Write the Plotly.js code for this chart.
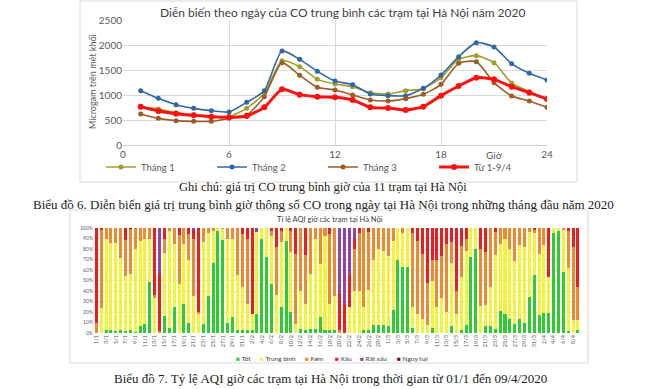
<!DOCTYPE html>
<html><head><meta charset="utf-8">
<script src="https://cdn.plot.ly/plotly-3.0.1.min.js"></script>
<style>html,body{margin:0;padding:0;background:#fff;}#chart{width:660px;height:389px;}</style>
</head><body><div id="chart"></div>
<script>
// ---- Chart 1: hourly CO (µg/m3) ----
const hours = [1,2,3,4,5,6,7,8,9,10,11,12,13,14,15,16,17,18,19,20,21,22,23,24];
const thang1 = [767,720,647,600,567,567,733,1033,1687,1567,1313,1220,1167,1047,1020,1087,1127,1347,1713,1787,1647,1240,1067,920];
const thang2 = [1087,933,807,733,687,660,853,1087,1880,1713,1473,1280,1207,1020,987,987,1133,1400,1767,2047,1960,1627,1433,1300];
const thang3 = [620,533,487,473,473,533,600,967,1647,1393,1153,1100,1000,900,880,927,1013,1213,1633,1667,1247,980,880,753];
const tu19_4 = [767,680,627,593,567,553,580,753,1113,1007,967,953,900,753,740,700,767,987,1180,1347,1313,1167,1047,920];
const hourTicks = [0,6,12,18,24];

// ---- Chart 2: daily AQI category shares (%) ----
const monthNums = [1,2,3,4];
const monthDays = [31,29,31,9];
const days = [];
monthNums.forEach((m,k)=>{ for(let d=1; d<=monthDays[k]; d++) days.push(d+'/'+m); });
const dayTicks = days.filter((_,i)=>i%2===0);

const tot = [0,0,3,3,2,3,2,3,1,7, 9,49,0,0,16,5,25,0,28,10, 0,0,9,35,67,97,89,10,15,3,
  3,3,3,18,90,72,47,0,25,88, 20,0,4,3,4,4,15,3,3,3, 0,0,0,0,0,3,3,8,8,8,
  7,22,70,63,63,5,0,0,0,5, 0,0,0,7,0,3,8,72,80,0, 7,7,4,21,18,13,9,13,10,34, 55,17,19,19,95,97,58,2,0,3];
const trungBinh = [0,24,87,83,84,68,52,53,79,81, 81,41,33,0,60,92,60,47,57,60, 35,18,78,60,30,3,10,80,75,52,
  41,25,15,78,10,28,45,36,62,12, 57,9,36,25,52,86,51,89,25,32, 0,0,25,40,40,22,38,62,72,70,
  66,66,30,32,37,20,18,13,8,45, 25,33,20,60,18,50,70,28,20,26, 20,37,70,64,72,67,60,71,72,62, 40,58,65,34,5,3,40,60,12,9];
const kem = [10,74,10,14,14,29,35,43,20,12, 10,10,3,2,14,3,15,46,15,24, 55,2,13,5,3,0,1,10,10,45,
  50,62,0,0,0,0,5,46,10,0, 20,66,60,46,44,10,34,8,66,65, 3,0,0,40,55,75,55,30,20,22,
  27,12,0,5,0,70,70,62,40,20, 45,40,65,20,22,30,12,0,0,54, 50,56,22,15,10,20,31,16,18,4, 3,25,16,0,0,0,2,35,70,32];
const xau = [90,2,0,0,0,0,11,0,0,0, 0,0,64,54,10,0,0,7,0,6, 8,80,0,0,0,0,0,0,0,0,
  6,10,82,0,0,0,3,18,3,0, 3,25,0,26,0,0,0,0,6,0, 35,28,30,10,5,0,4,0,0,0,
  0,0,0,0,0,5,12,25,52,30, 30,27,15,13,60,15,10,0,0,20, 23,0,4,0,0,0,0,0,0,0, 2,0,0,47,0,0,0,3,18,56];
const ratXau = [0,0,0,0,0,0,0,0,0,0, 0,0,0,44,0,0,0,0,0,0, 2,0,0,0,0,0,0,0,0,0,
  0,0,0,4,0,0,0,0,0,0, 0,0,0,0,0,0,0,0,0,0, 62,72,45,10,0,0,0,0,0,0,
  0,0,0,0,0,0,0,0,0,0, 0,0,0,0,0,2,0,0,0,0, 0,0,0,0,0,0,0,0,0,0, 0,0,0,0,0,0,0,0,0,0];
const nguyHai = [0,0,0,0,0,0,0,1,0,0, 0,0,0,0,0,0,0,0,0,0, 0,0,0,0,0,0,0,0,0,0,
  0,0,0,0,0,0,0,0,0,0, 0,0,0,0,0,0,0,0,0,0, 0,0,0,0,0,0,0,0,0,0,
  0,0,0,0,0,0,0,0,0,0, 0,0,0,0,0,0,0,0,0,0, 0,0,0,0,0,0,0,0,0,0, 0,0,0,0,0,0,0,0,0,0];

const aqiNames = ['Tốt','Trung bình','Kém','Xấu','Rất xấu','Nguy hại'];
const aqiColors = ['#2ECC2E','#F2F23A','#EE8A2E','#EE1C1C','#8E44A8','#7E0023'];
const aqiSeries = [tot,trungBinh,kem,xau,ratXau,nguyHai];

const W=660,H=389;
const px = v=>v/W, py = v=>1-v/H;

const lineDefs = [
  {name:'Tháng 1', y:thang1, color:'#A39E2A', w:1.6, ms:5},
  {name:'Tháng 2', y:thang2, color:'#2F67A6', w:1.6, ms:5},
  {name:'Tháng 3', y:thang3, color:'#9C5C26', w:1.6, ms:5},
  {name:'Từ 1-9/4', y:tu19_4, color:'#FF1010', w:3, ms:6}
];
const traces = lineDefs.map(d=>({
  type:'scatter', mode:'lines+markers', x:hours, y:d.y, name:d.name,
  line:{color:d.color,width:d.w,shape:'spline',smoothing:0.6}, marker:{color:d.color,size:d.ms},
  xaxis:'x', yaxis:'y', legend:'legend', hoverinfo:'skip'
}));
aqiSeries.forEach((s,k)=>traces.push({
  type:'bar', x:days, y:s, name:aqiNames[k], marker:{color:aqiColors[k],line:{width:0}},
  xaxis:'x2', yaxis:'y2', showlegend:false, hoverinfo:'skip'
}));

const legendX = [234,258,303,333,358,395];
const serif = 'Liberation Serif, serif';
const ann = [
  {text:'Diễn biến theo ngày của CO trung bình các trạm tại Hà Nội năm 2020', x:px(342), y:py(13), font:{size:12,color:'#404040'}},
  {text:'Microgam trên mét khối', x:px(93), y:py(82), textangle:-90, font:{size:9,color:'#595959'}},
  {text:'Giờ', x:21, xref:'x', y:py(155), font:{size:10,color:'#595959'}},
  {text:'Ghi chú: giá trị CO trung bình giờ của 11 trạm tại Hà Nội', x:px(323), y:py(187.5), font:{family:serif,size:12.5,color:'#222'}},
  {text:'Biểu đồ 6. Diễn biến giá trị trung bình giờ thông số CO trong ngày tại Hà Nội trong những tháng đầu năm 2020', x:px(323), y:py(204), font:{family:serif,size:13,color:'#222'}},
  {text:'Tỉ lệ AQI giờ các trạm tại Hà Nội', x:px(330), y:py(219), font:{size:7.5,color:'#404040'}},
  {text:'Biểu đồ 7. Tỷ lệ AQI giờ các trạm tại Hà Nội trong thời gian từ 01/1 đến 09/4/2020', x:px(330), y:py(378), font:{family:serif,size:13,color:'#222'}}
].map(a=>Object.assign({xref:'paper',yref:'paper',showarrow:false,xanchor:'center',yanchor:'middle',borderpad:0},a));
aqiNames.forEach((n,k)=>ann.push({xref:'paper',yref:'paper',showarrow:false,xanchor:'left',yanchor:'middle',
  x:px(legendX[k]), y:py(358), text:'<span style="color:'+aqiColors[k]+'">■</span> '+n, font:{size:6.5,color:'#404040'}}));

const layout = {
  width:W, height:H, margin:{l:0,r:0,t:0,b:0}, paper_bgcolor:'#fff', plot_bgcolor:'rgba(0,0,0,0)',
  font:{family:'Lato, "Open Sans", sans-serif', color:'#595959'},
  xaxis:{domain:[px(123),px(547)], range:[0,24], tickmode:'array', tickvals:hourTicks, showgrid:true, gridcolor:'#D9D9D9',
    zeroline:false, showline:true, linecolor:'#D0D0D0', ticks:'', tickfont:{size:10}, anchor:'y', fixedrange:true},
  yaxis:{domain:[py(145),py(20)], range:[0,2500], dtick:500, showgrid:true, gridcolor:'#D9D9D9', zeroline:false,
    ticks:'', tickfont:{size:10}, anchor:'x', fixedrange:true},
  xaxis2:{domain:[px(93.9),px(580.4)], anchor:'y2', type:'category', tickmode:'array', tickvals:dayTicks, ticktext:dayTicks,
    tickangle:-90, tickfont:{size:5.5,color:'#595959'}, showgrid:false, ticks:'', showline:false, fixedrange:true},
  yaxis2:{domain:[py(333),py(228)], anchor:'x2', range:[0,100], dtick:10, ticksuffix:'%', showgrid:true, gridcolor:'#E4E4E4',
    zeroline:false, ticks:'', tickfont:{size:5,color:'#595959'}, fixedrange:true},
  barmode:'stack', barnorm:'percent', bargap:0.38,
  legend:{orientation:'h', traceorder:'normal', x:px(101), y:py(167), xanchor:'left', yanchor:'middle', font:{size:9.5,color:'#595959'},
    entrywidth:66, entrywidthmode:'pixels', bgcolor:'rgba(0,0,0,0)', itemwidth:30},
  annotations:ann,
  shapes:[
    {type:'rect', xref:'paper', yref:'paper', x0:px(80), x1:px(577), y0:py(182), y1:py(1), line:{color:'#D9D9D9',width:1}},
    {type:'rect', xref:'paper', yref:'paper', x0:px(70), x1:px(588), y0:py(363), y1:py(210), line:{color:'#D9D9D9',width:1}}
  ]
};
Plotly.newPlot('chart', traces, layout, {displayModeBar:false, staticPlot:true});
</script></body></html>
